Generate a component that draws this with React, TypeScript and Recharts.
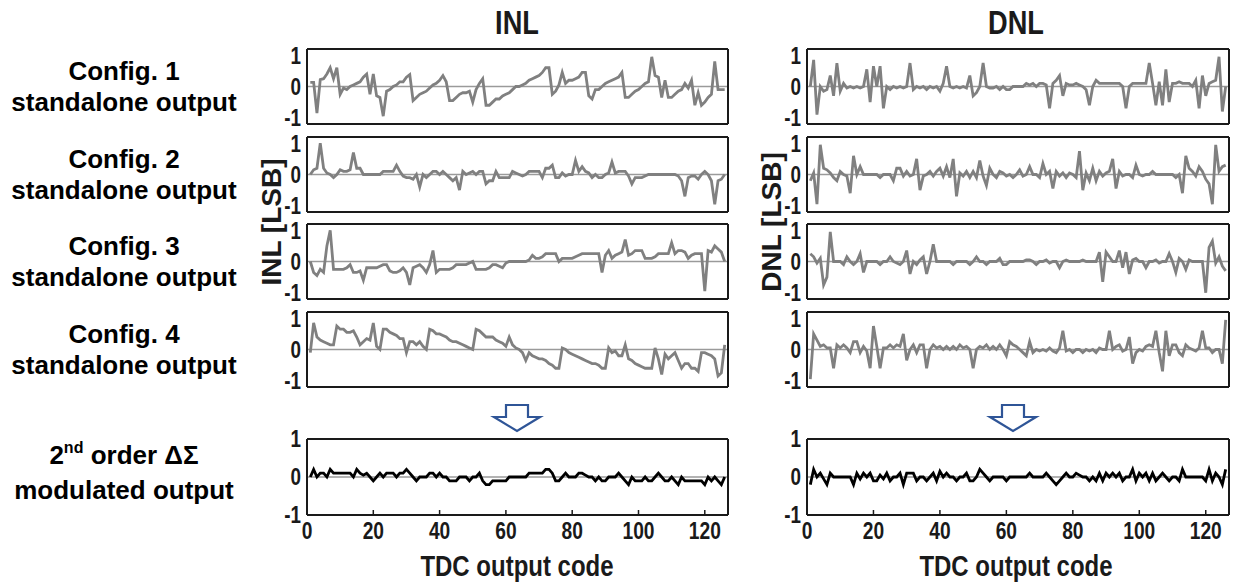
import React from "react";
import { LineChart, Line, XAxis, YAxis, ReferenceLine } from "recharts";

// TDC output codes 1..126
const codes: number[] = Array.from({ length: 126 }, (_, i) => i + 1);
const xTicks = [0, 20, 40, 60, 80, 100, 120];
const yTicks = [-1, 0, 1];

const inlConfig1 = [
  0.13, 0.13, -0.85, 0.22, 0.25, 0.4, 0.6, 0.25, 0.6, -0.25,
  -0.05, -0.1, 0.0, 0.05, 0.1, 0.15, 0.3, 0.4, -0.25, 0.4,
  -0.3, -0.35, -0.95, -0.15, -0.1, 0.0, 0.05, 0.15, 0.15, 0.3,
  0.38, -0.45, -0.35, -0.25, -0.2, -0.15, -0.05, 0.05, 0.1, 0.2,
  0.35, 0.15, -0.45, -0.45, -0.35, -0.25, -0.2, -0.2, -0.15, -0.5,
  -0.1, 0.1, 0.25, -0.6, -0.6, -0.5, -0.4, -0.4, -0.3, -0.25,
  -0.2, -0.1, 0.0, 0.0, 0.05, 0.1, 0.2, 0.25, 0.3, 0.35,
  0.45, 0.6, 0.6, -0.25, -0.15, 0.05, 0.45, 0.1, 0.2, 0.2,
  0.25, 0.3, 0.45, 0.45, -0.3, -0.4, -0.1, -0.1, 0.0, 0.1,
  0.15, 0.2, 0.25, 0.3, 0.45, -0.35, -0.35, -0.25, -0.15, -0.1,
  0.0, 0.1, 0.15, 0.95, 0.35, 0.3, -0.35, 0.2, -0.35, -0.35,
  -0.25, -0.15, -0.1, 0.1, -0.05, 0.2, -0.6, -0.2, -0.6, -0.5,
  -0.35, -0.25, 0.8, -0.1, -0.1, -0.1,
];
const dnlConfig1 = [
  0.0, 0.85, -0.9, 0.0, -0.15, -0.1, 0.35, -0.3, 0.75, -0.15,
  0.1, -0.05, 0.0, -0.05, 0.0, -0.05, 0.0, 0.55, -0.5, 0.65,
  0.0, 0.65, -0.7, 0.0, -0.1, 0.0, -0.05, 0.0, -0.05, 0.0,
  0.75, -0.1, 0.0, -0.05, 0.0, -0.1, 0.0, -0.05, 0.0, -0.15,
  0.1, 0.65, 0.0, -0.05, 0.0, -0.05, 0.0, -0.05, 0.35, -0.3,
  -0.2, 0.0, 0.75, 0.0, -0.05, -0.05, 0.0, -0.1, 0.0, -0.1,
  -0.1, 0.0, 0.0, 0.0, 0.0, 0.1, 0.05, 0.1, 0.0, 0.1,
  0.1, 0.05, -0.7, 0.1, 0.2, 0.35, -0.3, 0.1, 0.05, 0.05,
  0.1, 0.05, 0.0, -0.1, -0.6, 0.0, 0.2, 0.1, 0.1, 0.1,
  0.1, 0.1, 0.1, 0.1, 0.0, -0.7, 0.0, 0.1, 0.1, 0.1,
  0.1, 0.1, 0.75, 0.1, -0.6, 0.15, -0.6, 0.55, -0.5, 0.1,
  0.1, 0.15, 0.1, 0.1, 0.1, 0.0, 0.2, -0.7, 0.35, -0.3,
  0.1, 0.15, 0.2, 0.95, -0.8, 0.0,
];
const inlConfig2 = [
  0.0, 0.15, 0.2, 1.0, 0.2, 0.05, 0.0, -0.1, 0.0, 0.15,
  0.1, 0.1, 0.15, 0.7, 0.2, 0.2, 0.0, 0.0, 0.0, 0.0,
  0.0, 0.0, 0.1, 0.1, 0.1, 0.1, 0.3, 0.1, -0.05, -0.1,
  -0.1, -0.15, 0.0, -0.4, 0.0, -0.1, 0.0, 0.1, 0.1, 0.0,
  0.1, 0.0, -0.1, -0.2, -0.1, -0.5, 0.1, 0.0, 0.05, 0.1,
  0.0, 0.1, 0.1, -0.3, -0.2, -0.2, 0.1, -0.1, -0.1, -0.1,
  -0.1, 0.1, 0.05, 0.0, -0.05, 0.0, 0.1, 0.1, 0.1, 0.1,
  -0.1, 0.2, 0.2, 0.3, -0.1, -0.1, 0.05, -0.05, 0.0, 0.0,
  0.45, 0.1, 0.25, 0.1, 0.05, -0.1, 0.0, -0.1, -0.1, 0.0,
  0.05, 0.4, 0.05, 0.1, 0.1, 0.1, -0.05, -0.3, -0.1, -0.1,
  -0.1, -0.05, 0.0, 0.0, 0.0, 0.0, 0.0, 0.0, 0.0, 0.0,
  0.0, -0.05, -0.2, -0.7, -0.1, -0.05, -0.05, -0.15, 0.0, 0.1,
  0.0, -0.2, -0.95, -0.2, -0.15, 0.0,
];
const dnlConfig2 = [
  -0.2, 0.05, -0.95, 0.95, 0.2, 0.15, 0.05, -0.1, -0.2, 0.1,
  0.0, -0.05, -0.6, 0.6, 0.0, 0.25, 0.0, 0.0, 0.0, 0.0,
  0.0, -0.1, 0.0, 0.0, 0.0, -0.2, 0.2, 0.2, -0.05, 0.1,
  -0.05, 0.0, 0.5, -0.5, -0.05, 0.0, 0.1, -0.05, 0.1, 0.2,
  -0.05, 0.25, -0.1, 0.5, -0.7, 0.05, -0.05, 0.1, -0.1, 0.1,
  -0.1, 0.45, -0.05, -0.35, 0.2, 0.0, -0.1, 0.1, 0.05, -0.05,
  0.0, -0.1, 0.0, 0.15, -0.05, 0.0, 0.25, 0.0, 0.0, -0.1,
  0.35, 0.0, 0.1, -0.45, 0.1, -0.05, 0.05, -0.1, 0.05, 0.0,
  -0.1, 0.75, -0.5, 0.05, -0.2, 0.2, -0.2, 0.1, -0.05, 0.05,
  0.1, 0.5, -0.45, 0.1, -0.05, 0.0, 0.0, -0.1, 0.3, 0.0,
  -0.05, 0.0, 0.0, 0.1, 0.0, 0.0, 0.0, 0.0, 0.0, 0.0,
  -0.1, 0.0, -0.6, 0.6, 0.2, 0.1, -0.05, 0.25, 0.1, -0.15,
  -0.3, -0.95, 0.95, 0.1, 0.25, 0.3,
];
const inlConfig3 = [
  0.0, -0.35, -0.45, -0.25, -0.35, 0.5, 1.0, -0.25, -0.25, -0.25,
  -0.25, -0.2, -0.1, -0.35, -0.35, -0.3, -0.6, -0.2, -0.2, -0.2,
  -0.2, -0.15, -0.1, -0.1, -0.3, -0.35, -0.35, -0.3, -0.2, -0.35,
  -0.75, -0.2, -0.15, -0.1, -0.2, -0.35, -0.1, 0.35, -0.35, -0.25,
  -0.25, -0.25, -0.25, -0.2, -0.1, -0.1, -0.1, -0.1, -0.05, 0.0,
  -0.25, -0.25, -0.25, -0.25, -0.2, -0.1, -0.1, -0.15, -0.2, -0.05,
  0.0, 0.0, 0.0, 0.0, 0.0, 0.0, 0.05, 0.2, 0.1, 0.1,
  0.15, 0.25, 0.25, 0.25, 0.25, 0.0, 0.1, 0.1, 0.1, 0.1,
  0.15, 0.2, 0.25, 0.25, 0.25, 0.25, 0.25, 0.25, -0.35, 0.2,
  0.35, 0.1, 0.2, 0.25, 0.3, 0.7, 0.2, 0.25, 0.35, 0.35,
  0.35, 0.1, 0.1, 0.1, 0.15, 0.25, 0.25, 0.25, 0.25, 0.6,
  0.25, 0.35, 0.35, 0.3, 0.1, 0.2, 0.25, 0.25, 0.25, -0.95,
  0.35, 0.3, 0.5, 0.4, 0.3, 0.0,
];
const dnlConfig3 = [
  0.25, 0.15, -0.05, 0.1, -0.75, -0.5, 0.95, 0.0, 0.0, 0.0,
  -0.1, 0.15, 0.0, -0.1, 0.0, 0.25, -0.35, 0.0, 0.0, 0.0,
  0.0, -0.1, 0.0, 0.0, 0.15, 0.0, -0.05, -0.1, 0.0, 0.35,
  -0.4, 0.0, -0.1, 0.05, 0.15, -0.4, 0.0, 0.55, 0.0, 0.0,
  0.0, 0.0, 0.0, -0.1, 0.0, 0.0, 0.0, 0.0, -0.1, 0.0,
  0.15, 0.0, 0.0, -0.1, 0.0, 0.0, 0.0, 0.1, -0.1, -0.1,
  0.0, 0.0, 0.0, 0.0, 0.0, 0.05, 0.05, 0.0, -0.1, 0.0,
  0.0, 0.05, -0.05, 0.0, 0.0, -0.2, 0.0, 0.05, 0.0, 0.0,
  0.0, 0.0, 0.05, 0.0, 0.0, 0.0, 0.0, 0.3, -0.65, 0.3,
  0.15, 0.0, 0.0, 0.35, -0.2, 0.3, -0.4, 0.05, 0.1, 0.0,
  0.0, -0.2, 0.0, 0.0, 0.05, -0.05, 0.0, 0.0, 0.25, 0.0,
  -0.35, 0.1, 0.0, -0.25, 0.05, 0.0, 0.0, 0.0, 0.0, -1.0,
  0.45, 0.65, -0.05, 0.15, -0.15, -0.3,
];
const inlConfig4 = [
  -0.1, 0.85, 0.4, 0.3, 0.25, 0.2, 0.15, 0.15, 0.75, 0.65,
  0.65, 0.55, 0.55, 0.6, 0.4, 0.15, 0.25, 0.35, 0.3, 0.85,
  0.1, 0.0, 0.65, 0.65, 0.55, 0.5, 0.45, 0.35, 0.35, -0.1,
  0.25, 0.25, 0.15, 0.25, 0.1, 0.0, 0.65, 0.6, 0.5, 0.5,
  0.45, 0.4, 0.3, 0.25, 0.25, 0.2, 0.15, 0.1, 0.05, 0.0,
  0.65, 0.6, 0.5, 0.4, 0.4, 0.4, 0.3, 0.25, 0.2, 0.1,
  0.4, 0.15, 0.05, 0.0, -0.1, -0.35, -0.1, -0.2, -0.25, -0.3,
  -0.3, -0.35, -0.45, -0.5, -0.6, -0.6, 0.05, 0.0, -0.1, -0.15,
  -0.2, -0.25, -0.3, -0.35, -0.4, -0.45, -0.45, -0.5, -0.6, -0.6,
  0.05, -0.1, -0.05, -0.2, -0.2, 0.15, -0.3, -0.35, -0.45, -0.5,
  -0.55, -0.6, -0.6, -0.6, 0.05, -0.3, -0.8, -0.15, -0.3, -0.2,
  -0.1, -0.35, -0.6, -0.45, -0.45, -0.6, -0.6, -0.7, -0.1, -0.1,
  -0.15, -0.2, -0.3, -0.85, -0.75, 0.15,
];
const dnlConfig4 = [
  -0.95, 0.5, 0.3, 0.1, 0.15, 0.05, 0.05, -0.6, 0.15, 0.05,
  0.15, 0.05, -0.1, 0.25, 0.25, -0.1, 0.1, -0.05, -0.6, 0.75,
  0.1, -0.6, 0.05, 0.05, 0.15, 0.05, 0.15, 0.1, 0.5, -0.35,
  0.0, 0.15, -0.1, 0.15, 0.15, -0.6, 0.0, 0.15, 0.05, 0.1,
  0.0, 0.1, 0.0, 0.1, 0.0, 0.15, 0.05, 0.1, 0.0, -0.6,
  0.0, 0.1, 0.05, 0.15, 0.0, 0.1, 0.0, 0.15, 0.0, -0.2,
  0.25, 0.15, 0.1, 0.0, -0.1, -0.2, 0.25, -0.1, 0.0, -0.05,
  0.0, -0.05, 0.05, -0.05, -0.1, 0.05, 0.6, -0.05, 0.0, -0.1,
  0.0, 0.0, -0.1, 0.0, -0.05, 0.0, -0.1, 0.05, 0.0, 0.0,
  0.6, 0.0, 0.1, 0.15, -0.05, 0.0, 0.4, -0.45, -0.1, 0.0,
  -0.05, 0.1, 0.15, 0.1, 0.6, -0.1, -0.7, 0.6, -0.2, 0.15,
  0.15, -0.1, -0.2, 0.15, 0.05, 0.0, -0.05, 0.05, 0.6, 0.05,
  0.05, -0.1, 0.0, 0.0, -0.45, 0.95,
];
const inlDeltaSigma = [
  0.0, 0.2, 0.0, 0.1, 0.1, 0.0, 0.2, 0.1, 0.1, 0.1,
  0.1, 0.1, 0.1, 0.0, 0.2, 0.1, 0.05, 0.1, 0.0, -0.1,
  0.0, 0.1, 0.0, 0.1, 0.1, 0.1, 0.0, 0.1, 0.1, 0.2,
  0.1, 0.0, -0.1, 0.0, 0.0, 0.0, 0.1, 0.1, 0.0, 0.1,
  0.0, 0.0, -0.1, -0.1, -0.1, 0.0, 0.0, 0.0, -0.1, 0.0,
  0.0, 0.1, -0.1, -0.2, -0.2, -0.1, -0.1, -0.1, -0.1, -0.1,
  0.0, 0.0, 0.0, 0.0, 0.0, 0.0, 0.1, 0.1, 0.1, 0.1,
  0.1, 0.2, 0.2, 0.1, -0.1, -0.1, 0.0, 0.1, 0.0, 0.0,
  0.0, 0.1, 0.1, 0.05, 0.0, 0.0, -0.1, 0.0, -0.1, -0.1,
  0.0, 0.0, 0.0, 0.1, 0.0, -0.1, -0.2, 0.0, -0.1, -0.1,
  -0.1, 0.0, -0.1, -0.1, 0.0, 0.1, 0.0, -0.1, -0.1, 0.0,
  -0.1, -0.2, 0.0, -0.1, -0.1, -0.1, -0.1, -0.1, -0.1, -0.2,
  0.0, -0.1, 0.0, -0.1, -0.2, 0.0,
];
const dnlDeltaSigma = [
  -0.2, 0.2, 0.0, 0.1, -0.05, -0.2, 0.1, 0.0, 0.0, 0.0,
  0.0, 0.0, 0.0, -0.2, 0.1, -0.05, 0.1, 0.0, 0.1, -0.1,
  -0.1, 0.05, -0.05, 0.1, -0.1, 0.0, 0.0, 0.1, -0.2, 0.1,
  0.1, 0.1, -0.1, 0.0, 0.0, -0.1, 0.0, 0.1, -0.1, 0.15,
  0.0, 0.1, 0.0, 0.0, -0.1, 0.0, 0.0, 0.1, -0.1, -0.1,
  0.0, 0.2, 0.1, 0.0, -0.1, 0.0, 0.0, 0.0, 0.0, -0.1,
  0.0, 0.0, 0.0, 0.0, 0.0, 0.0, 0.1, 0.0, 0.0, 0.0,
  0.0, 0.1, 0.0, -0.1, -0.2, -0.1, 0.0, 0.1, 0.0, 0.0,
  0.1, 0.05, 0.0, 0.0, -0.1, 0.0, -0.1, 0.1, -0.1, 0.1,
  0.0, 0.1, 0.0, 0.1, -0.1, 0.0, 0.0, 0.2, -0.1, 0.1,
  0.0, 0.1, -0.1, 0.1, -0.1, 0.0, 0.1, 0.0, -0.1, 0.0,
  0.0, -0.1, 0.2, 0.0, 0.0, 0.0, 0.0, 0.0, 0.0, -0.1,
  0.2, -0.1, 0.1, 0.0, -0.2, 0.2,
];

const rowLabels = [
  ["Config. 1", "standalone output"],
  ["Config. 2", "standalone output"],
  ["Config. 3", "standalone output"],
  ["Config. 4", "standalone output"],
];

const SANS = "'Liberation Sans', Arial, sans-serif";
const NARROW_SCALE = 0.8;

const toRows = (vals: number[]) => codes.map((c, i) => ({ code: c, v: vals[i] }));

function NarrowXTick(props: any) {
  const { x, y, payload } = props;
  return (
    <g transform={`translate(${x},${y})`}>
      <text
        transform={`scale(${NARROW_SCALE},1)`}
        textAnchor="middle"
        dy="0.8em"
        fontFamily={SANS}
        fontWeight="bold"
        fontSize={24}
        fill="#1a1a1a"
      >
        {payload.value}
      </text>
    </g>
  );
}

function NarrowYTick(props: any) {
  const { x, y, payload } = props;
  return (
    <g transform={`translate(${x},${y})`}>
      <text
        transform={`scale(0.82,1)`}
        textAnchor="end"
        dy="0.36em"
        fontFamily={SANS}
        fontWeight="bold"
        fontSize={23}
        fill="#1a1a1a"
      >
        {payload.value}
      </text>
    </g>
  );
}

type PanelProps = {
  vals: number[];
  left: number;
  top: number;
  w: number;
  h: number;
  domain: [number, number];
  color: string;
  showX: boolean;
};

function Panel({ vals, left, top, w, h, domain, color, showX }: PanelProps) {
  const ML = 50, MT = 14, MR = 8, MB = showX ? 40 : 8;
  const frame = { stroke: "#1a1a1a", strokeWidth: 2 };
  return (
    <div style={{ position: "absolute", left: left - ML, top: top - MT }}>
      <LineChart
        width={w + ML + MR}
        height={h + MT + MB}
        data={toRows(vals)}
        margin={{ top: 0, right: 0, bottom: 0, left: 0 }}
      >
        <XAxis
          xAxisId="b"
          dataKey="code"
          type="number"
          domain={[0, 127]}
          ticks={xTicks}
          orientation="bottom"
          height={MB}
          tickSize={-5}
          tickMargin={10}
          interval={0}
          allowDataOverflow
          axisLine={frame}
          tickLine={{ stroke: "#1a1a1a", strokeWidth: 1.5 }}
          tick={showX ? <NarrowXTick /> : false}
        />
        <XAxis
          xAxisId="t"
          dataKey="code"
          type="number"
          domain={[0, 127]}
          ticks={xTicks}
          orientation="top"
          height={MT}
          tickSize={-5}
          interval={0}
          allowDataOverflow
          axisLine={frame}
          tickLine={{ stroke: "#1a1a1a", strokeWidth: 1.5 }}
          tick={false}
        />
        <YAxis
          yAxisId="l"
          type="number"
          domain={domain}
          ticks={yTicks}
          width={ML}
          tickSize={0}
          tickMargin={6}
          interval={0}
          allowDataOverflow
          axisLine={frame}
          tickLine={false}
          tick={<NarrowYTick />}
        />
        <YAxis
          yAxisId="r"
          orientation="right"
          type="number"
          domain={domain}
          width={MR}
          allowDataOverflow
          axisLine={frame}
          tickLine={false}
          tick={false}
        />
        <ReferenceLine xAxisId="b" yAxisId="l" y={0} stroke="#9a9a9a" strokeWidth={1.5} />
        <Line
          xAxisId="b"
          yAxisId="l"
          type="linear"
          dataKey="v"
          stroke={color}
          strokeWidth={2.8}
          dot={false}
          isAnimationActive={false}
        />
      </LineChart>
    </div>
  );
}

const colL = { x: 307, w: 421 };
const colR = { x: 807, w: 422 };
const rowTops = [49, 137, 224, 312];
const rowH = 75;
const dsTop = 439;
const dsH = 76;

const inlSeries = [inlConfig1, inlConfig2, inlConfig3, inlConfig4];
const dnlSeries = [dnlConfig1, dnlConfig2, dnlConfig3, dnlConfig4];

function Arrow({ cx }: { cx: number }) {
  const top = 405, mid = 417, tip = 431;
  const pts = [
    [cx - 11, top], [cx + 11, top], [cx + 11, mid], [cx + 23, mid],
    [cx, tip], [cx - 23, mid], [cx - 11, mid],
  ].map((p) => p.join(",")).join(" ");
  return <polygon points={pts} fill="#ffffff" stroke="#2f5597" strokeWidth={2.2} strokeLinejoin="miter" />;
}

function NarrowText({ x, y, size, children }: { x: number; y: number; size: number; children: React.ReactNode }) {
  return (
    <g transform={`translate(${x},${y}) scale(${NARROW_SCALE},1)`}>
      <text x={0} y={0} textAnchor="middle" dominantBaseline="central" fontFamily={SANS} fontWeight="bold" fontSize={size} fill="#1a1a1a">
        {children}
      </text>
    </g>
  );
}

export default function App() {
  return (
    <div style={{ position: "absolute", left: 0, top: 0, width: 1239, height: 588, background: "#fff", overflow: "hidden" }}>
      {rowTops.map((t, i) => (
        <React.Fragment key={i}>
          <Panel vals={inlSeries[i]} left={colL.x} top={t} w={colL.w} h={rowH} domain={[-1.2, 1.2]} color="#808080" showX={false} />
          <Panel vals={dnlSeries[i]} left={colR.x} top={t} w={colR.w} h={rowH} domain={[-1.2, 1.2]} color="#808080" showX={false} />
        </React.Fragment>
      ))}
      <Panel vals={inlDeltaSigma} left={colL.x} top={dsTop} w={colL.w} h={dsH} domain={[-1, 1]} color="#000000" showX={true} />
      <Panel vals={dnlDeltaSigma} left={colR.x} top={dsTop} w={colR.w} h={dsH} domain={[-1, 1]} color="#000000" showX={true} />

      <svg width={1239} height={588} style={{ position: "absolute", left: 0, top: 0, pointerEvents: "none" }}>
        <NarrowText x={517} y={22} size={34}>INL</NarrowText>
        <NarrowText x={1016} y={22} size={34}>DNL</NarrowText>

        {rowLabels.map((lines, i) => {
          const c = rowTops[i] + rowH / 2;
          return (
            <g key={i} fontFamily={SANS} fontWeight="bold" fontSize={26} fill="#000" textAnchor="middle">
              <text x={124} y={c - 16} dominantBaseline="central">{lines[0]}</text>
              <text x={124} y={c + 15} dominantBaseline="central">{lines[1]}</text>
            </g>
          );
        })}
        <g fontFamily={SANS} fontWeight="bold" fontSize={26} fill="#000" textAnchor="middle">
          <text x={124} y={455} dominantBaseline="central">
            2<tspan fontSize={16} dy={-8}>nd</tspan><tspan dy={8}> order ΔΣ</tspan>
          </text>
          <text x={124} y={490} dominantBaseline="central">modulated output</text>
        </g>

        <text x={271} y={222} textAnchor="middle" dominantBaseline="central" transform="rotate(-90 271 222)" fontFamily={SANS} fontWeight="bold" fontSize={28} fill="#1a1a1a">INL [LSB]</text>
        <text x={771} y={222} textAnchor="middle" dominantBaseline="central" transform="rotate(-90 771 222)" fontFamily={SANS} fontWeight="bold" fontSize={28} fill="#1a1a1a">DNL [LSB]</text>

        <NarrowText x={517} y={566} size={30}>TDC output code</NarrowText>
        <NarrowText x={1016} y={566} size={30}>TDC output code</NarrowText>

        <Arrow cx={517} />
        <Arrow cx={1013} />
      </svg>
    </div>
  );
}
